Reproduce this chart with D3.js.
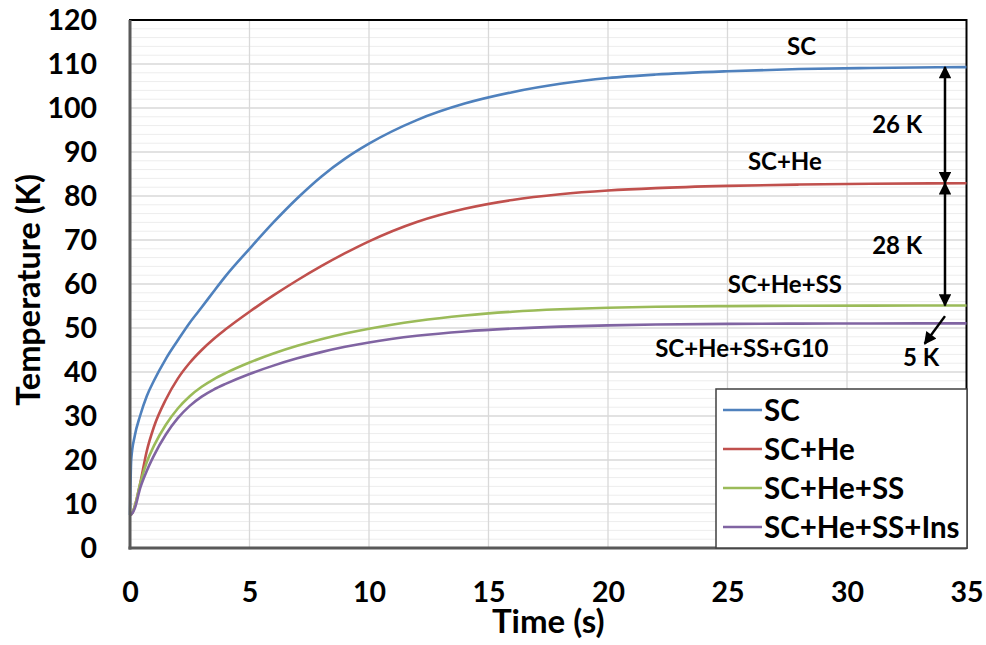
<!DOCTYPE html>
<html>
<head>
  <title>Temperature vs Time</title>
  <script src="https://cdnjs.cloudflare.com/ajax/libs/d3/7.8.5/d3.min.js"></script>
  <style>
  body { margin: 0; background: #fff; }
  svg text { font-family: Lato, "Open Sans", sans-serif; font-weight: bold; fill: #000; }
  </style>
</head>
<body>
<script>

// time points (s)
var times   = [0,   0.05, 0.2,  0.42, 0.7,  1,    1.5,  2,    2.5,  3,    3.5,  4,     5,     6,     7,     8,     9,     10,    12,    14,    16,    18,    20,    22,    25,     28,     31,     35];

// temperatures (K)
var sc      = [7.5, 20,   25.5, 30,   34.5, 38,   43,   47.2, 51.2, 54.7, 58.3, 61.8,  68,    74,    79.5,  84.4,  88.5,  91.9,  97.25, 101,   103.6, 105.5, 106.8, 107.6, 108.35, 108.85, 109.1,  109.3];
var scHe    = [7.5, 7.6,  9.5,  14.5, 22,   27.5, 33.75,38.5, 42.1, 45,   47.5, 49.7,  53.7,  57.4,  60.85, 64.05, 67,    69.7,  74.1,  77.1,  79.1,  80.4,  81.25, 81.8,  82.3,   82.6,   82.8,   82.9];
var scHeSS  = [7.5, 7.6,  9.5,  14.5, 19.5, 23.2, 28,   31.7, 34.5, 36.65,38.35,39.75, 42.15, 44.2,  45.95, 47.45, 48.75, 49.85, 51.6,  52.85, 53.7,  54.25, 54.6,  54.82, 54.98,  55.06,  55.09,  55.1];
var scHeSSI = [7.5, 7.6,  9,    13.5, 17.5, 21,   25.8, 29.5, 32.3, 34.4, 36,   37.3,  39.55, 41.45, 43.1,  44.52, 45.72, 46.72, 48.22, 49.22, 49.88, 50.32, 50.6,  50.78, 50.93,  51,     51.03,  51.05];

var seriesNames = ["SC", "SC+He", "SC+He+SS", "SC+He+SS+Ins"];
var seriesColors = ["#4f81bd", "#c0504d", "#9bbb59", "#8064a2"];
var seriesValues = [sc, scHe, scHeSS, scHeSSI];

var xTicks = [0, 5, 10, 15, 20, 25, 30, 35];
var yTicks = [0, 10, 20, 30, 40, 50, 60, 70, 80, 90, 100, 110, 120];

// text notes on the plot: [label, t, T]
var notes = [
  ["SC", 28.1, 112],
  ["SC+He", 27.4, 85.9],
  ["SC+He+SS", 27.4, 58],
  ["SC+He+SS+G10", 25.6, 43.4],
  ["26 K", 32.1, 94.3],
  ["28 K", 32.1, 66.8],
  ["5 K", 33.1, 41.4]
];
// arrows: [t1, T1, t2, T2, double]
var arrows = [
  [34.1, 109.3, 34.1, 82.9, true],
  [34.1, 82.9, 34.1, 55.1, true],
  [34.1, 52.7, 33.25, 46.4, false]
];

var width = 986, height = 645;
var MARGINS = {left: 130, top: 20, right: 19.5, bottom: 97};

var svg = d3.select("body").append("svg")
    .attr("width", width)
    .attr("height", height);

var xScale = d3.scaleLinear()
    .domain([0, 35])
    .range([MARGINS.left, width - MARGINS.right]);

var yScale = d3.scaleLinear()
    .domain([0, 120])
    .range([height - MARGINS.bottom, MARGINS.top]);

// minor gridlines
svg.append("g").selectAll("line")
    .data(d3.range(2, 120, 2).filter(function(v) { return v % 10 != 0; }))
    .enter().append("line")
    .attr("x1", xScale(0)).attr("x2", xScale(35))
    .attr("y1", yScale).attr("y2", yScale)
    .attr("stroke", "#ededed")
    .attr("stroke-width", 1);

// major gridlines
svg.append("g").selectAll("line")
    .data(yTicks.slice(1, -1))
    .enter().append("line")
    .attr("x1", xScale(0)).attr("x2", xScale(35))
    .attr("y1", yScale).attr("y2", yScale)
    .attr("stroke", "#d9d9d9")
    .attr("stroke-width", 1.3);

svg.append("g").selectAll("line")
    .data(xTicks.slice(1, -1))
    .enter().append("line")
    .attr("x1", xScale).attr("x2", xScale)
    .attr("y1", yScale(0)).attr("y2", yScale(120))
    .attr("stroke", "#d9d9d9")
    .attr("stroke-width", 1.3);

// plot border
svg.append("rect")
    .attr("x", xScale(0)).attr("y", yScale(120))
    .attr("width", xScale(35) - xScale(0))
    .attr("height", yScale(0) - yScale(120))
    .attr("fill", "none")
    .attr("stroke", "#000")
    .attr("stroke-width", 2);

// curves
var line = d3.line()
    .x(function(d) { return xScale(d[0]); })
    .y(function(d) { return yScale(d[1]); })
    .curve(d3.curveMonotoneX);

seriesValues.forEach(function(vals, i) {
  svg.append("path")
      .datum(times.map(function(t, j) { return [t, vals[j]]; }))
      .attr("d", line)
      .attr("fill", "none")
      .attr("stroke", seriesColors[i])
      .attr("stroke-width", 2.6)
      .attr("stroke-linejoin", "round");
});

// axes
var xAxis = d3.axisBottom(xScale).tickValues(xTicks).tickSize(0).tickPadding(34);
var yAxis = d3.axisLeft(yScale).tickValues(yTicks).tickSize(0).tickPadding(33);

var xAxisGroup = svg.append("g")
    .attr("transform", "translate(0," + yScale(0) + ")")
    .call(xAxis);
var yAxisGroup = svg.append("g")
    .attr("transform", "translate(" + xScale(0) + ",0)")
    .call(yAxis);

[xAxisGroup, yAxisGroup].forEach(function(g) {
  g.select(".domain").remove();
  g.selectAll("text")
      .attr("font-family", "Lato, sans-serif")
      .attr("font-weight", "bold")
      .attr("font-size", 28.5)
      .attr("fill", "#000");
});

// axis lines
svg.append("line")
    .attr("x1", xScale(0)).attr("x2", xScale(0))
    .attr("y1", yScale(120)).attr("y2", yScale(0) + 1.5)
    .attr("stroke", "#595959").attr("stroke-width", 3);
svg.append("line")
    .attr("x1", xScale(0) - 1.5).attr("x2", xScale(35))
    .attr("y1", yScale(0)).attr("y2", yScale(0))
    .attr("stroke", "#595959").attr("stroke-width", 3);

// axis titles
svg.append("text")
    .attr("x", (xScale(0) + xScale(35)) / 2)
    .attr("y", 633)
    .attr("text-anchor", "middle")
    .attr("font-size", 33)
    .text("Time (s)");

svg.append("text")
    .attr("transform", "translate(40," + 290 + ") rotate(-90)")
    .attr("text-anchor", "middle")
    .attr("font-size", 32.5)
    .text("Temperature (K)");

// notes
svg.append("g").selectAll("text")
    .data(notes)
    .enter().append("text")
    .attr("x", function(d) { return xScale(d[1]); })
    .attr("y", function(d) { return yScale(d[2]); })
    .attr("text-anchor", "middle")
    .attr("font-size", 24)
    .text(function(d) { return d[0]; });

// arrow heads
var defs = svg.append("defs");
defs.append("marker")
    .attr("id", "head")
    .attr("viewBox", "0 0 10 10")
    .attr("refX", 9).attr("refY", 5)
    .attr("markerWidth", 5.5).attr("markerHeight", 5)
    .attr("orient", "auto-start-reverse")
    .append("path")
    .attr("d", "M0,0 L10,5 L0,10 z")
    .attr("fill", "#000");

svg.append("g").selectAll("line")
    .data(arrows)
    .enter().append("line")
    .attr("x1", function(d) { return xScale(d[0]); })
    .attr("y1", function(d) { return yScale(d[1]); })
    .attr("x2", function(d) { return xScale(d[2]); })
    .attr("y2", function(d) { return yScale(d[3]); })
    .attr("stroke", "#000")
    .attr("stroke-width", 2.5)
    .attr("marker-end", "url(#head)")
    .attr("marker-start", function(d) { return d[4] ? "url(#head)" : null; });

// legend
var legend = svg.append("g").attr("transform", "translate(716,389)");
legend.append("rect")
    .attr("width", 251).attr("height", 159)
    .attr("fill", "#fff")
    .attr("stroke", "#404040")
    .attr("stroke-width", 1.5);

var items = legend.selectAll("g.item")
    .data(seriesNames)
    .enter().append("g")
    .attr("class", "item")
    .attr("transform", function(d, i) { return "translate(0," + (21 + i * 39) + ")"; });

items.append("line")
    .attr("x1", 7).attr("x2", 46)
    .attr("stroke", function(d, i) { return seriesColors[i]; })
    .attr("stroke-width", 2.6);

items.append("text")
    .attr("x", 48)
    .attr("dy", "0.36em")
    .attr("font-size", 29.5)
    .text(function(d) { return d; });

</script>
</body>
</html>
